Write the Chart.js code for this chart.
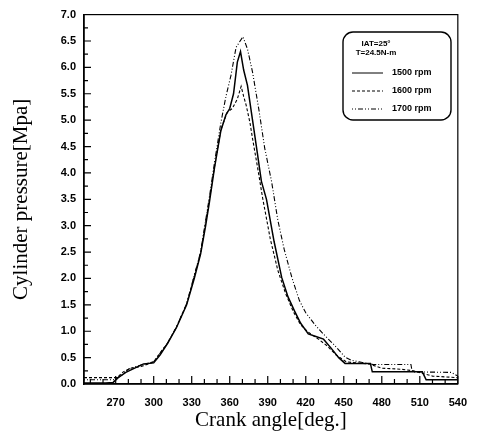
<!DOCTYPE html>
<html>
<head>
<meta charset="utf-8">
<script src="https://cdn.jsdelivr.net/npm/chart.js@4/dist/chart.umd.min.js"></script>
<style>
  html, body { margin: 0; padding: 0; background: #fff; }
  #wrap { width: 479px; height: 437px; position: relative; }
</style>
</head>
<body>
<div id="wrap"><canvas id="pressureChart"></canvas></div>
<script>
// crank angle [deg] / cylinder pressure [MPa]
const seriesNames = ['1500 rpm', '1600 rpm', '1700 rpm'];
const legendHeader = ['IAT=25\u00b0', 'T=24.5N-m'];

const angle1500 = [245, 262, 268, 272, 278, 285, 292, 300, 305, 311, 318, 326, 332, 337, 341, 344, 348, 353, 357, 360, 363, 366, 368.5, 371, 374, 378, 382, 385, 389, 395, 401, 406, 411, 416, 422, 428, 434, 440, 446, 451, 471, 472.5, 512, 515, 540];
const press1500 = [0.02, 0.02, 0.03, 0.12, 0.22, 0.30, 0.38, 0.40, 0.55, 0.77, 1.07, 1.50, 2.00, 2.46, 3.00, 3.45, 4.10, 4.80, 5.10, 5.22, 5.50, 6.10, 6.30, 5.95, 5.66, 5.00, 4.34, 3.84, 3.50, 2.70, 2.02, 1.65, 1.39, 1.15, 0.95, 0.90, 0.85, 0.68, 0.50, 0.39, 0.39, 0.23, 0.23, 0.08, 0.08];

const angle1600 = [245, 271, 276, 282, 290, 300, 311, 318, 326, 337, 344, 348, 353, 358, 362, 366, 369, 371, 373, 376, 378, 382, 386, 392, 398, 404, 410, 416, 422, 430, 437, 444, 452, 460, 470, 480, 495, 505, 520, 540];
const press1600 = [0.12, 0.12, 0.23, 0.30, 0.33, 0.42, 0.78, 1.08, 1.52, 2.48, 3.50, 4.12, 4.82, 5.15, 5.22, 5.40, 5.64, 5.45, 5.28, 4.95, 4.65, 4.10, 3.52, 2.75, 2.15, 1.72, 1.38, 1.12, 0.98, 0.85, 0.72, 0.55, 0.42, 0.40, 0.38, 0.30, 0.28, 0.25, 0.15, 0.12];

const angle1700 = [245, 268, 274, 280, 290, 300, 311, 318, 326, 337, 344, 348, 353, 357, 361, 365, 370.4, 374, 378, 383, 387.6, 393, 398, 403, 409, 415, 420, 428, 435, 442, 447, 451, 456, 462, 473, 503, 504, 535, 540];
const press1700 = [0.08, 0.08, 0.15, 0.28, 0.36, 0.42, 0.78, 1.08, 1.52, 2.50, 3.55, 4.20, 4.95, 5.45, 5.85, 6.38, 6.58, 6.35, 5.91, 5.20, 4.47, 3.84, 3.10, 2.55, 2.02, 1.58, 1.35, 1.10, 0.92, 0.75, 0.62, 0.51, 0.45, 0.42, 0.37, 0.37, 0.23, 0.22, 0.15];

const xTicks = [270, 300, 330, 360, 390, 420, 450, 480, 510, 540];
const yTicks = [0, 0.5, 1, 1.5, 2, 2.5, 3, 3.5, 4, 4.5, 5, 5.5, 6, 6.5, 7];

const lineDashes = [[], [3, 2], [1, 2, 1, 2, 5, 2]];

function toPoints(xs, ys) {
    return xs.map((x, i) => ({ x: x, y: ys[i] }));
}

// inside tick marks + closing frame, drawn like the original plot
const framePlugin = {
    id: 'frame',
    afterDraw(chart) {
        const ctx = chart.ctx;
        const area = chart.chartArea;
        const xs = chart.scales.x;
        const ys = chart.scales.y;
        ctx.save();
        ctx.strokeStyle = '#000';
        ctx.lineWidth = 1.2;
        ctx.strokeRect(area.left, area.top, area.right - area.left, area.bottom - area.top);
        ctx.beginPath();
        for (let v = 250; v <= 540; v += 10) {
            const px = xs.getPixelForValue(v);
            const len = (v % 30 === 0) ? 8 : 5;
            ctx.moveTo(px, area.bottom);
            ctx.lineTo(px, area.bottom - len);
        }
        for (let i = 1; i < 28; i++) {
            const v = i * 0.25;
            const py = ys.getPixelForValue(v);
            const len = (i % 2 === 0) ? 7 : 4;
            ctx.moveTo(area.left, py);
            ctx.lineTo(area.left + len, py);
        }
        ctx.stroke();
        ctx.restore();
    }
};

const legendPlugin = {
    id: 'boxLegend',
    afterDraw(chart) {
        const ctx = chart.ctx;
        const bx = 343, by = 32, bw = 108, bh = 88;
        ctx.save();
        ctx.strokeStyle = '#000';
        ctx.lineWidth = 1.4;
        ctx.beginPath();
        ctx.roundRect(bx, by, bw, bh, 10);
        ctx.stroke();

        ctx.fillStyle = '#000';
        ctx.font = 'bold 8px "Liberation Sans", Arial, sans-serif';
        ctx.textAlign = 'center';
        ctx.textBaseline = 'middle';
        ctx.fillText(legendHeader[0], 376, 44);
        ctx.fillText(legendHeader[1], 376, 53);

        const rows = [73, 91, 109];
        ctx.font = 'bold 9px "Liberation Sans", Arial, sans-serif';
        chart.data.datasets.forEach((ds, i) => {
            ctx.beginPath();
            ctx.lineWidth = 1;
            ctx.setLineDash(ds.borderDash || []);
            ctx.moveTo(352, rows[i]);
            ctx.lineTo(383, rows[i]);
            ctx.stroke();
            ctx.setLineDash([]);
            ctx.textAlign = 'left';
            ctx.fillText(ds.label, 392, rows[i]);
        });
        ctx.restore();
    }
};

const ctx = document.getElementById('pressureChart').getContext('2d');
new Chart(ctx, {
    type: 'scatter',
    data: {
        datasets: [
            { label: seriesNames[0], data: toPoints(angle1500, press1500) },
            { label: seriesNames[1], data: toPoints(angle1600, press1600) },
            { label: seriesNames[2], data: toPoints(angle1700, press1700) }
        ].map((ds, i) => Object.assign(ds, {
            showLine: true,
            borderColor: '#000',
            backgroundColor: '#000',
            borderWidth: i === 0 ? 1.5 : 1.1,
            borderDash: lineDashes[i],
            pointRadius: 0,
            tension: 0,
            fill: false
        }))
    },
    options: {
        responsive: true,
        maintainAspectRatio: false,
        animation: false,
        layout: { padding: { left: 0, right: 18, top: 12, bottom: 0 } },
        plugins: {
            legend: { display: false },
            tooltip: { enabled: false }
        },
        scales: {
            x: {
                type: 'linear',
                min: 245,
                max: 540,
                afterBuildTicks: (scale) => { scale.ticks = xTicks.map(v => ({ value: v })); },
                afterFit: (scale) => { scale.height = 53; },
                grid: { display: false, drawTicks: false },
                border: { display: true, color: '#000', width: 1.5 },
                ticks: {
                    color: '#000',
                    padding: 12,
                    maxRotation: 0,
                    font: { family: '"Liberation Sans", Arial, sans-serif', size: 11, weight: 'bold' }
                },
                title: {
                    display: true,
                    text: 'Crank angle[deg.]',
                    color: '#000',
                    padding: { top: 2, bottom: 4 },
                    font: { family: '"Liberation Serif", "Times New Roman", serif', size: 21 }
                }
            },
            y: {
                min: 0,
                max: 7,
                afterBuildTicks: (scale) => { scale.ticks = yTicks.map(v => ({ value: v })); },
                afterFit: (scale) => { scale.width = 84; },
                grid: { display: false, drawTicks: false },
                border: { display: true, color: '#000', width: 1.5 },
                ticks: {
                    color: '#000',
                    padding: 8,
                    callback: (v) => Number(v).toFixed(1),
                    font: { family: '"Liberation Sans", Arial, sans-serif', size: 11, weight: 'bold' }
                },
                title: {
                    display: true,
                    text: 'Cylinder pressure[Mpa]',
                    color: '#000',
                    padding: { top: 9, bottom: 0 },
                    font: { family: '"Liberation Serif", "Times New Roman", serif', size: 21 }
                }
            }
        }
    },
    plugins: [framePlugin, legendPlugin]
});
</script>
</body>
</html>
